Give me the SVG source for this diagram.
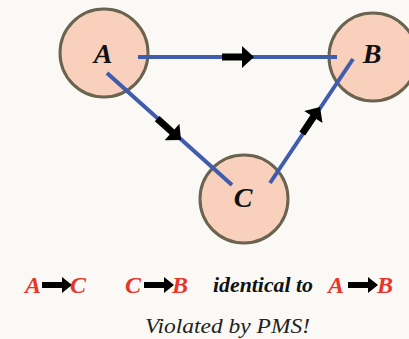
<svg xmlns="http://www.w3.org/2000/svg" width="409" height="339" viewBox="0 0 409 339">
  <style>
    .node { fill: #f8d0bb; stroke: #6a6350; stroke-width: 3; }
    .lbl { font-family: "Liberation Serif", "Times New Roman", serif; font-weight: bold; font-style: italic; font-size: 28px; fill: #111; text-anchor: middle; }
    .edge { stroke: #3f5cad; stroke-width: 4; fill: none; }
    .arr { fill: #000; }
    .rel { font-family: "Liberation Serif", "Times New Roman", serif; font-weight: bold; font-style: italic; font-size: 24px; fill: #e8352a; }
    .txt { font-family: "Liberation Serif", "Times New Roman", serif; font-weight: bold; font-style: italic; font-size: 20px; fill: #111; }
    .note { font-family: "Liberation Serif", "Times New Roman", serif; font-style: italic; font-size: 21px; fill: #222; }
  </style>
  <defs>
    <!-- block arrow, tip at origin, pointing along +x -->
    <path id="bigArrow" d="M-32,-3.5 H-12 V-11 L0,0 L-12,11 V3.5 H-32 Z"/>
    <path id="smallArrow" d="M-30,-3 H-10 V-8 L0,0 L-10,8 V3 H-30 Z"/>
  </defs>
  <rect width="409" height="339" fill="#faf9f5"/>

  <g id="node-A">
    <circle class="node" cx="104" cy="53" r="44"/>
    <text class="lbl" x="103" y="63">A</text>
  </g>
  <g id="node-B">
    <circle class="node" cx="373" cy="57" r="44"/>
    <text class="lbl" x="372" y="63">B</text>
  </g>
  <g id="node-C">
    <circle class="node" cx="244" cy="199" r="44"/>
    <text class="lbl" x="243" y="207">C</text>
  </g>

  <g id="edges">
    <line class="edge" x1="138" y1="57" x2="337" y2="57"/>
    <line class="edge" x1="107" y1="73" x2="232" y2="185"/>
    <line class="edge" x1="270" y1="183" x2="353" y2="59"/>
    <use href="#bigArrow" class="arr" transform="translate(254,57)"/>
    <use href="#bigArrow" class="arr" transform="translate(181,140) rotate(41.9)"/>
    <use href="#bigArrow" class="arr" transform="translate(320,107) rotate(-56.4)"/>
  </g>

  <g id="caption">
    <text class="rel" x="25" y="293">A</text>
    <use href="#smallArrow" class="arr" transform="translate(72,285)"/>
    <text class="rel" x="70" y="293">C</text>

    <text class="rel" x="125" y="293">C</text>
    <use href="#smallArrow" class="arr" transform="translate(174,285)"/>
    <text class="rel" x="172" y="293">B</text>

    <text class="txt" x="213" y="292" textLength="100" lengthAdjust="spacingAndGlyphs">identical to</text>

    <text class="rel" x="328" y="293">A</text>
    <use href="#smallArrow" class="arr" transform="translate(378,285)"/>
    <text class="rel" x="377" y="293">B</text>

    <text class="note" x="145" y="333" textLength="165" lengthAdjust="spacingAndGlyphs">Violated by PMS!</text>
  </g>
</svg>
